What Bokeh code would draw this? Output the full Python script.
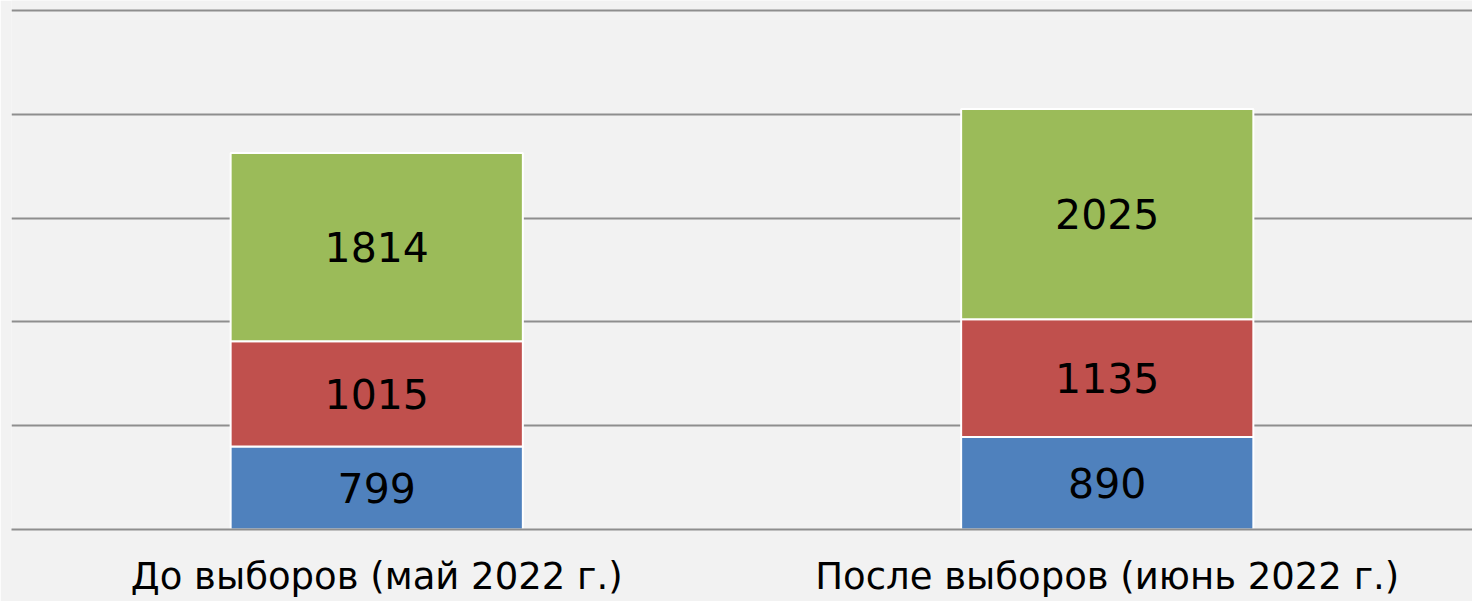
from bokeh.plotting import figure
from bokeh.models import ColumnDataSource, Range1d, FixedTicker
from bokeh.core.properties import value
from bokeh.embed import file_html
from bokeh.resources import INLINE

categories = ["До выборов (май 2022 г.)", "После выборов (июнь 2022 г.)"]
series_names = ["s1", "s2", "s3"]
s1 = [799, 890]
s2 = [1015, 1135]
s3 = [1814, 2025]
colors = ["#4f81bd", "#c0504d", "#9bbb59"]
y_ticks = [0, 1000, 2000, 3000, 4000, 5000]

data = dict(cat=categories, s1=s1, s2=s2, s3=s3)
src = ColumnDataSource(data)

p = figure(x_range=categories, y_range=Range1d(0, 5096), width=1472, height=601,
           output_backend="svg", toolbar_location=None,
           min_border_left=11, min_border_right=0, min_border_top=0, min_border_bottom=72)
p.background_fill_color = "#f2f2f2"
p.border_fill_color = "#f2f2f2"
p.outline_line_color = None

p.vbar_stack(series_names, x="cat", width=0.4, color=colors, source=src,
             line_color="white", line_width=2)

# labels at segment centres
lx, ly, lt = [], [], []
for i, c in enumerate(categories):
    base = 0
    for arr in (s1, s2, s3):
        v = arr[i]
        lx.append(c)
        ly.append(base + v / 2)
        lt.append(str(v))
        base += v
p.text(x=lx, y=ly, text=lt, text_align="center", text_baseline="middle",
       text_font=value("DejaVu Sans"), text_font_size="41px", text_color="black")

p.yaxis.visible = False
p.yaxis.ticker = FixedTicker(ticks=y_ticks)
p.ygrid.ticker = FixedTicker(ticks=y_ticks)
p.ygrid.grid_line_color = "#8e8e8e"
p.ygrid.grid_line_width = 2
p.xgrid.grid_line_color = None

p.xaxis.axis_line_color = "#8e8e8e"
p.xaxis.axis_line_width = 2
p.xaxis.major_tick_line_color = None
p.xaxis.minor_tick_line_color = None
p.xaxis.major_label_text_font = "DejaVu Sans"
p.xaxis.major_label_text_font_size = "37px"
p.xaxis.major_label_text_color = "black"
p.xaxis.major_label_standoff = 19

open("out.html", "w").write(file_html(p, INLINE))
